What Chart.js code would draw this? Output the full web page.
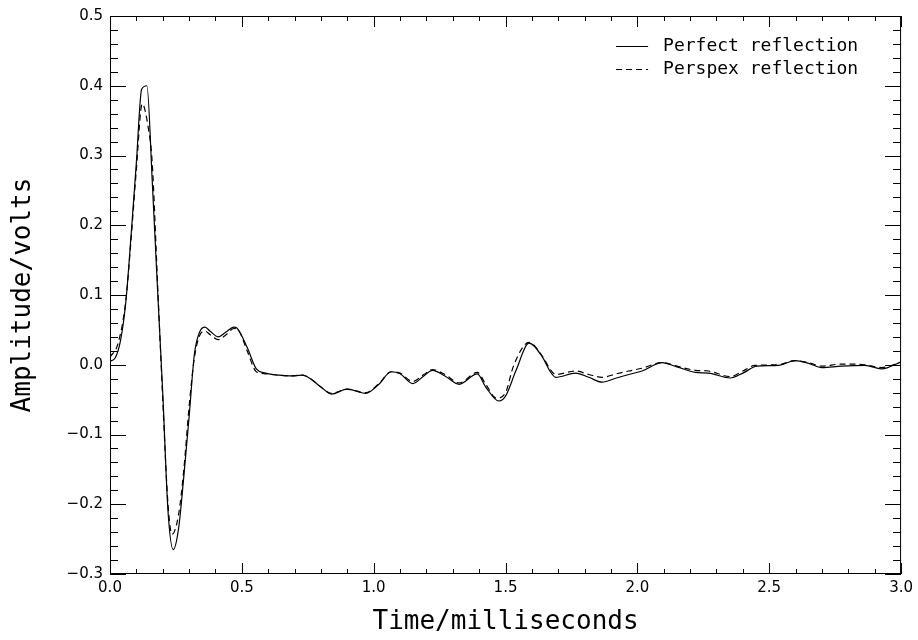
<!DOCTYPE html>
<html>
<head>
<meta charset="utf-8">
<script src="https://cdn.jsdelivr.net/npm/chart.js@4.4.1/dist/chart.umd.min.js"></script>
<style>
  html, body { margin: 0; padding: 0; background: #fff; }
  canvas { display: block; }
</style>
</head>
<body>
<canvas id="chart" width="918" height="640"></canvas>
<script>
// Perfect reflection (solid)
const perfectT = [0.00, 0.02, 0.04, 0.06, 0.08, 0.10, 0.12, 0.14, 0.16, 0.18, 0.20, 0.22, 0.24, 0.26, 0.28, 0.30, 0.32, 0.34, 0.36, 0.38, 0.41, 0.44, 0.47, 0.48, 0.52, 0.555, 0.59, 0.64, 0.68, 0.73, 0.76, 0.80, 0.84, 0.90, 0.97, 1.02, 1.066, 1.10, 1.148, 1.19, 1.223, 1.27, 1.324, 1.393, 1.425, 1.475, 1.50, 1.54, 1.589, 1.64, 1.67, 1.69, 1.766, 1.816, 1.866, 1.92, 1.967, 2.018, 2.093, 2.15, 2.22, 2.27, 2.352, 2.40, 2.453, 2.535, 2.598, 2.65, 2.699, 2.774, 2.863, 2.926, 3.00];
const perfectV = [0.005, 0.010, 0.035, 0.090, 0.186, 0.290, 0.395, 0.400, 0.265, 0.110, -0.040, -0.210, -0.265, -0.235, -0.160, -0.075, 0.015, 0.047, 0.054, 0.048, 0.040, 0.047, 0.054, 0.053, 0.025, -0.006, -0.012, -0.015, -0.016, -0.015, -0.020, -0.032, -0.042, -0.035, -0.041, -0.028, -0.010, -0.013, -0.027, -0.016, -0.008, -0.016, -0.028, -0.013, -0.032, -0.052, -0.045, -0.008, 0.031, 0.011, -0.010, -0.018, -0.012, -0.018, -0.025, -0.019, -0.014, -0.009, 0.003, -0.003, -0.011, -0.012, -0.019, -0.012, -0.002, -0.001, 0.006, 0.002, -0.004, -0.002, -0.001, -0.006, 0.004];

// Perspex reflection (dashed)
const perspexT = [0.00, 0.03, 0.06, 0.08, 0.10, 0.122, 0.145, 0.16, 0.18, 0.20, 0.22, 0.235, 0.26, 0.28, 0.30, 0.32, 0.34, 0.36, 0.38, 0.41, 0.44, 0.47, 0.49, 0.52, 0.555, 0.59, 0.64, 0.68, 0.73, 0.76, 0.80, 0.84, 0.90, 0.97, 1.02, 1.066, 1.10, 1.148, 1.19, 1.223, 1.27, 1.324, 1.393, 1.425, 1.465, 1.50, 1.53, 1.589, 1.64, 1.67, 1.69, 1.766, 1.816, 1.866, 1.92, 1.967, 2.018, 2.093, 2.15, 2.22, 2.27, 2.352, 2.40, 2.445, 2.535, 2.598, 2.65, 2.699, 2.774, 2.863, 2.926, 3.00];
const perspexV = [0.011, 0.030, 0.092, 0.180, 0.280, 0.374, 0.340, 0.290, 0.120, -0.050, -0.200, -0.243, -0.215, -0.150, -0.060, 0.010, 0.042, 0.048, 0.043, 0.036, 0.043, 0.052, 0.048, 0.020, -0.010, -0.013, -0.015, -0.016, -0.015, -0.020, -0.032, -0.041, -0.035, -0.040, -0.027, -0.010, -0.012, -0.024, -0.014, -0.007, -0.014, -0.026, -0.011, -0.028, -0.048, -0.040, -0.002, 0.032, 0.012, -0.007, -0.014, -0.009, -0.014, -0.018, -0.013, -0.009, -0.005, 0.003, -0.002, -0.008, -0.009, -0.017, -0.009, -0.001, 0.000, 0.006, 0.003, -0.002, 0.001, 0.000, -0.004, 0.004];

const seriesLabels = ["Perfect reflection", "Perspex reflection"];
const xTitle = "Time/milliseconds";
const yTitle = "Amplitude/volts";

const FONT = "'DejaVu Sans', sans-serif";
const MONO = "'DejaVu Sans Mono', monospace";

function points(ts, vs) {
    return ts.map((t, i) => ({ x: t, y: vs[i] }));
}

// frame, inward ticks on all four sides, and the legend
const framePlugin = {
    id: "frame",
    afterDraw(chart) {
        const ctx = chart.ctx;
        const a = chart.chartArea;
        const xs = chart.scales.x;
        const ys = chart.scales.y;
        ctx.save();
        ctx.strokeStyle = "#000";
        ctx.lineWidth = 1;
        ctx.strokeRect(a.left + 0.5, a.top + 0.5, a.right - a.left - 1, a.bottom - a.top - 1);

        ctx.beginPath();
        for (let i = 0; i <= 40; i++) {
            const v = -0.3 + i * 0.02;
            const y = Math.round(ys.getPixelForValue(v)) + 0.5;
            const len = (i % 5 === 0) ? 16 : 8;
            ctx.moveTo(a.left, y); ctx.lineTo(a.left + len, y);
            ctx.moveTo(a.right, y); ctx.lineTo(a.right - len, y);
        }
        for (let i = 0; i <= 30; i++) {
            const t = i * 0.1;
            const x = Math.round(xs.getPixelForValue(t)) + 0.5;
            const len = (i % 5 === 0) ? 11 : 5;
            ctx.moveTo(x, a.bottom); ctx.lineTo(x, a.bottom - len);
            ctx.moveTo(x, a.top); ctx.lineTo(x, a.top + len);
        }
        ctx.stroke();

        // legend
        const lx = a.right - 285;
        chart.data.datasets.forEach((ds, i) => {
            const y = a.top + 30 + i * 23;
            ctx.beginPath();
            ctx.setLineDash(ds.borderDash || []);
            ctx.lineWidth = 1.2;
            ctx.moveTo(lx, y + 0.5);
            ctx.lineTo(lx + 32, y + 0.5);
            ctx.stroke();
            ctx.setLineDash([]);
            ctx.fillStyle = "#000";
            ctx.font = "18px " + MONO;
            ctx.textBaseline = "middle";
            ctx.textAlign = "left";
            ctx.fillText(ds.label, lx + 47, y);
        });
        ctx.restore();
    }
};

new Chart(document.getElementById("chart"), {
    type: "line",
    data: {
        datasets: [{
            label: seriesLabels[0],
            data: points(perfectT, perfectV),
            borderColor: "#000",
            borderWidth: 1.2,
            pointRadius: 0,
            cubicInterpolationMode: "monotone",
            fill: false
        }, {
            label: seriesLabels[1],
            data: points(perspexT, perspexV),
            borderColor: "#000",
            borderWidth: 1.2,
            borderDash: [6, 4],
            pointRadius: 0,
            cubicInterpolationMode: "monotone",
            fill: false
        }]
    },
    options: {
        responsive: false,
        animation: false,
        maintainAspectRatio: false,
        layout: { padding: { top: 15, right: 15, left: 0, bottom: 0 } },
        plugins: {
            legend: { display: false },
            tooltip: { enabled: false }
        },
        scales: {
            x: {
                type: "linear",
                min: 0,
                max: 3,
                grid: { display: false, drawTicks: false },
                border: { display: false },
                ticks: {
                    stepSize: 0.5,
                    padding: 5,
                    color: "#000",
                    maxRotation: 0,
                    autoSkip: false,
                    font: { family: FONT, size: 15 },
                    callback: v => v.toFixed(1)
                },
                title: {
                    display: true,
                    text: xTitle,
                    color: "#000",
                    font: { family: MONO, size: 26 },
                    padding: { top: 0, bottom: 2 }
                },
                afterFit: s => { s.height = 66; }
            },
            y: {
                min: -0.3,
                max: 0.5,
                grid: { display: false, drawTicks: false },
                border: { display: false },
                ticks: {
                    stepSize: 0.1,
                    padding: 7,
                    color: "#000",
                    autoSkip: false,
                    font: { family: FONT, size: 15 },
                    callback: v => (v < -1e-9 ? "\u2212" + Math.abs(v).toFixed(1) : Math.abs(v).toFixed(1))
                },
                title: {
                    display: true,
                    text: yTitle,
                    color: "#000",
                    font: { family: MONO, size: 26 },
                    padding: { top: 8, bottom: 0 }
                },
                afterFit: s => { s.width = 110; }
            }
        }
    },
    plugins: [framePlugin]
});
</script>
</body>
</html>
